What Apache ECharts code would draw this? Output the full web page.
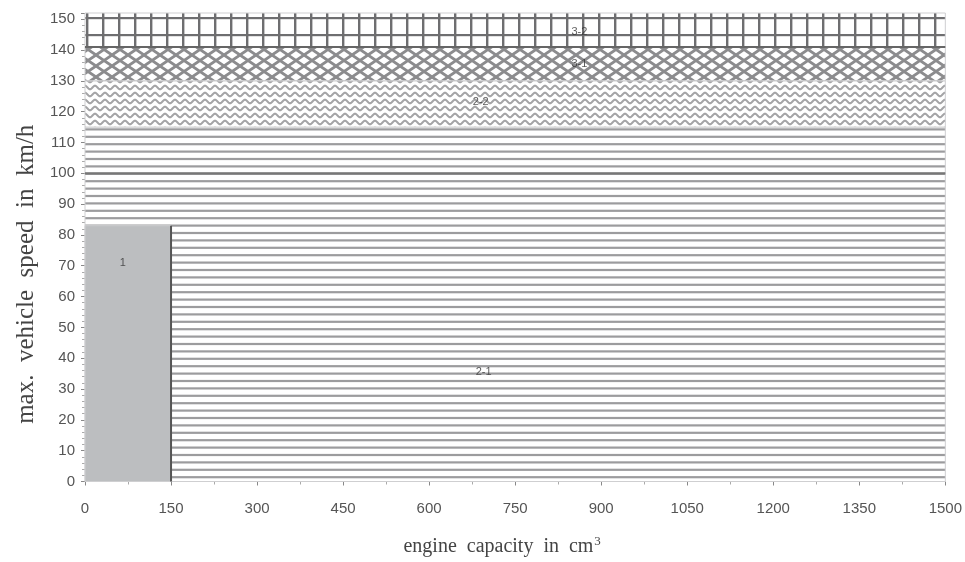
<!DOCTYPE html>
<html><head><meta charset="utf-8">
<script src="https://cdn.jsdelivr.net/npm/echarts@6/dist/echarts.min.js"></script>
<style>html,body{margin:0;padding:0;background:#fff}#c{width:965px;height:562px}</style>
</head><body><div id="c"></div>
<script>
// Data: zones [name, xStart, xEnd, yStart, yEnd]
var zoneNames = ['2-1', '2-2', '3-1', '3-2', '1'];
var zoneX0 = [0, 0, 0, 0, 0];
var zoneX1 = [1500, 1500, 1500, 1500, 150];
var zoneY0 = [0, 115, 130, 141, 0];
var zoneY1 = [115, 130, 141, 152, 83];
var labelX = [695, 690, 862, 862, 66];
var labelY = [35.5, 123, 135.5, 146, 71];
var xTicks = [0, 150, 300, 450, 600, 750, 900, 1050, 1200, 1350, 1500];
var yTicks = [0, 10, 20, 30, 40, 50, 60, 70, 80, 90, 100, 110, 120, 130, 140, 150];

function mk(w, h, draw) {
  var c = document.createElement('canvas'); c.width = w; c.height = h;
  var g = c.getContext('2d'); g.fillStyle = '#fff'; g.fillRect(0, 0, w, h); draw(g); return c;
}
var patHoriz = mk(8, 37, function (g) {
  g.fillStyle = '#9c9c9e';
  for (var i = 0; i < 5; i++) g.fillRect(0, i * 7.4 + 2.5, 8, 2.2);
});
var patZig = mk(10, 7, function (g) {
  g.strokeStyle = '#a4a4a6'; g.lineWidth = 2;
  g.beginPath();
  for (var x = -1; x <= 11; x += 0.5) {
    var y = 3.5 + 1.8 * Math.cos(x / 10 * 2 * Math.PI);
    if (x === -1) g.moveTo(x, y); else g.lineTo(x, y);
  }
  g.stroke();
});
var patCross = mk(16, 11, function (g) {
  g.strokeStyle = '#8c8c8e'; g.lineWidth = 2.8;
  g.beginPath();
  g.moveTo(-8, -5.5); g.lineTo(24, 16.5);
  g.moveTo(24, -5.5); g.lineTo(-8, 16.5);
  g.stroke();
});
var patGrid = mk(16, 17, function (g) {
  g.fillStyle = '#6e6e70';
  g.fillRect(6, 0, 2.4, 17);
  g.fillRect(0, 0, 16, 2.2);
});
var fills = {
  '2-1': {image: patHoriz, repeat: 'repeat'},
  '2-2': {image: patZig, repeat: 'repeat'},
  '3-1': {image: patCross, repeat: 'repeat'},
  '3-2': {image: patGrid, repeat: 'repeat'},
  '1': '#bcbec0'
};

var zoneData = zoneNames.map(function (n, i) { return [zoneX0[i], zoneX1[i], zoneY0[i], zoneY1[i], i]; });
var labelData = zoneNames.map(function (n, i) { return {value: [labelX[i], labelY[i]], name: n}; });

var chart = echarts.init(document.getElementById('c'));
chart.setOption({
  animation: false,
  grid: {left: 85, right: 19, top: 13, bottom: 79},
  xAxis: {
    type: 'value', min: 0, max: 1500, interval: 150,
    name: 'engine  capacity  in  cm{sup|3}', nameLocation: 'middle', nameGap: 54,
    nameTextStyle: {fontFamily: 'Liberation Serif', fontSize: 20, color: '#444', padding: [0, 26, 0, 0],
      rich: {sup: {fontFamily: 'Liberation Serif', fontSize: 13, color: '#444', verticalAlign: 'top', padding: [0, 0, 10, 1]}}},
    axisLine: {show: false},
    axisTick: {show: true, length: 4, lineStyle: {color: '#888'}},
    minorTick: {show: true, splitNumber: 2, length: 3, lineStyle: {color: '#aaa'}},
    axisLabel: {fontFamily: 'Liberation Sans', fontSize: 15, color: '#555', margin: 20,
      formatter: function (v) { return String(v); }},
    splitLine: {show: false}
  },
  yAxis: {
    type: 'value', min: 0, max: 152, interval: 10,
    name: 'max.  vehicle  speed  in  km/h', nameLocation: 'middle', nameGap: 46,
    nameTextStyle: {fontFamily: 'Liberation Serif', fontSize: 25, color: '#444', padding: [0, 54, 0, 0]},
    axisLine: {show: false},
    axisTick: {show: true, length: 4, lineStyle: {color: '#888'}},
    minorTick: {show: true, splitNumber: 5, length: 3, lineStyle: {color: '#aaa'}},
    axisLabel: {fontFamily: 'Liberation Sans', fontSize: 15, color: '#555', margin: 10, showMaxLabel: false,
      formatter: function (v) { return String(v); }},
    splitLine: {show: false}
  },
  series: [{
    type: 'custom',
    data: zoneData,
    renderItem: function (params, api) {
      var p0 = api.coord([api.value(0), api.value(3)]);
      var p1 = api.coord([api.value(1), api.value(2)]);
      var idx = api.value(4);
      var name = zoneNames[idx];
      var children = [{
        type: 'rect',
        shape: {x: p0[0], y: p0[1], width: p1[0] - p0[0], height: p1[1] - p0[1]},
        style: {fill: fills[name], stroke: '#cfcfd1', lineWidth: 1}
      }];
      if (name === '1') {
        children.push({type: 'line', shape: {x1: p1[0], y1: p0[1], x2: p1[0], y2: p1[1]}, style: {stroke: '#555', lineWidth: 2}});
      }
      if (name === '3-2') {
        children.push({type: 'line', shape: {x1: p0[0], y1: p1[1], x2: p1[0], y2: p1[1]}, style: {stroke: '#666', lineWidth: 2}});
      }
      if (name === '2-1') {
        var yy = api.coord([0, 100])[1];
        children.push({type: 'line', shape: {x1: p0[0], y1: yy, x2: p1[0], y2: yy}, style: {stroke: '#777', lineWidth: 2.2}});
      }
      return {type: 'group', children: children};
    },
    z: 1
  }, {
    type: 'scatter',
    data: labelData,
    symbolSize: 0,
    label: {show: true, position: 'inside', formatter: '{b}', fontFamily: 'Liberation Sans', fontSize: 11, color: '#333'},
    z: 5
  }]
});
</script></body></html>
